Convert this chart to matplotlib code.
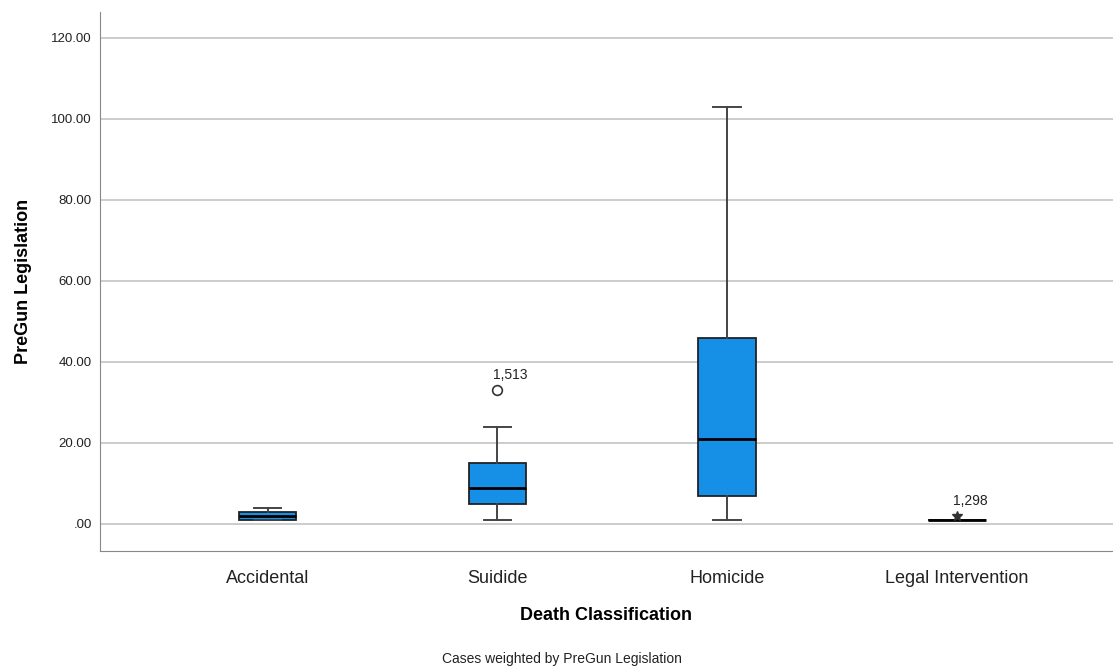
import matplotlib.pyplot as plt
from matplotlib.ticker import FuncFormatter

plt.rcParams['font.family'] = ['Liberation Sans', 'DejaVu Sans']

categories = ['Accidental', 'Suidide', 'Homicide', 'Legal Intervention']
whislo = [1, 1, 1, 1]
q1 = [1, 5, 7, 1]
med = [2, 9, 21, 1]
q3 = [3, 15, 46, 1]
whishi = [4, 24, 103, 1]
outliers = [[], [33], [], []]
extremes = [[], [], [], [2]]
case_ids = {1: '1,513', 3: '1,298'}

blue = '#1590e6'

stats = []
for i, name in enumerate(categories):
    stats.append(dict(label=name, whislo=whislo[i], q1=q1[i], med=med[i],
                      q3=q3[i], whishi=whishi[i], fliers=outliers[i]))

fig = plt.figure(figsize=(11.13, 6.70), dpi=100)
ax = fig.add_axes([100 / 1113, 119 / 670, 1013 / 1113, 539 / 670])

pos = [1, 2, 3, 4]
ax.bxp(stats, positions=pos, widths=0.25, patch_artist=True,
       boxprops=dict(facecolor=blue, edgecolor='#222222', linewidth=1.3),
       medianprops=dict(color='black', linewidth=2),
       whiskerprops=dict(color='#444444', linewidth=1.4),
       capprops=dict(color='#444444', linewidth=1.4),
       capwidths=0.12,
       flierprops=dict(marker='o', markerfacecolor='white', markeredgecolor='#333333',
                       markersize=7, markeredgewidth=1.2),
       zorder=3)

for i, ex in enumerate(extremes):
    for v in ex:
        ax.plot(pos[i], v, marker='*', color='#333333', markersize=7, zorder=4)

for i, lab in case_ids.items():
    v = (outliers[i] + extremes[i])[0]
    ax.annotate(lab, (pos[i], v), xytext=(-3, 8), textcoords='offset points',
                fontsize=10, color='#222222')

ax.set_xlim(0.27, 4.68)
ax.set_ylim(-6.67, 126.4)
ax.set_yticks([0, 20, 40, 60, 80, 100, 120])
ax.yaxis.set_major_formatter(FuncFormatter(lambda v, p: '.00' if v == 0 else '%.2f' % v))
ax.grid(axis='y', color='#c4c4c4', linewidth=1.2, zorder=0)
ax.set_axisbelow(True)
ax.tick_params(axis='both', length=0)
ax.tick_params(axis='y', labelsize=9.5, pad=6, colors='#222222')
ax.tick_params(axis='x', labelsize=13, pad=14, colors='#222222')

for s in ['top', 'right']:
    ax.spines[s].set_visible(False)
for s in ['left', 'bottom']:
    ax.spines[s].set_color('#888888')

ax.set_ylabel('PreGun Legislation', fontsize=13, fontweight='bold', labelpad=14)
ax.set_xlabel('Death Classification', fontsize=13, fontweight='bold', labelpad=14)
fig.text(562 / 1113, 1 - 659 / 670, 'Cases weighted by PreGun Legislation',
         ha='center', va='center', fontsize=10, color='#222222')

fig.savefig('out.png', dpi=100)
